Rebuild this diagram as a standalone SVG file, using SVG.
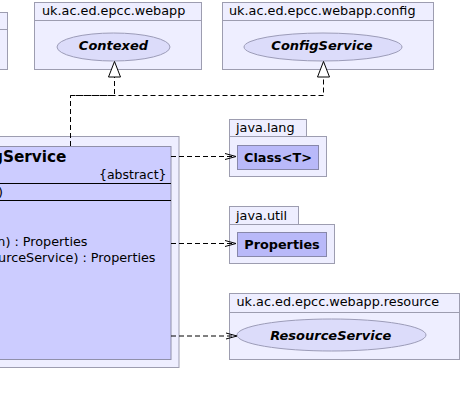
<svg xmlns="http://www.w3.org/2000/svg" width="462" height="405" viewBox="0 0 462 405">
<style>
text{font-family:"DejaVu Sans","Liberation Sans",sans-serif;fill:#000}
.pkg{fill:#eeeeff;stroke:#9d9db0;stroke-width:1}
.cls{fill:#ccccff;stroke:#9090aa;stroke-width:1}
.sm{fill:#b9b9f9;stroke:#8888aa;stroke-width:1}
.ell{fill:#dcdcfa;stroke:#9c9cb8;stroke-width:1}
.lbl{font-size:12.8px}
.ital{font-size:13px;font-weight:bold;font-style:italic}
.bold{font-size:12.8px;font-weight:bold}
.edge{fill:none;stroke:#000;stroke-width:1;stroke-dasharray:5,3}
.head{fill:none;stroke:#000;stroke-width:1}
.tri{fill:#fff;stroke:#000;stroke-width:1}
.div{stroke:#000;stroke-width:1}
</style>
<g id="pkg-left">
<rect class="pkg" x="-20" y="12.5" width="27.5" height="57"/>
<line x1="-20" y1="29.5" x2="7.5" y2="29.5" stroke="#9d9db0"/>
</g>
<g id="pkg-webapp">
<rect class="pkg" x="34.5" y="2.5" width="167" height="67"/>
<line x1="34.5" y1="20.5" x2="201.5" y2="20.5" stroke="#9d9db0"/>
<text class="lbl" x="42" y="15">uk.ac.ed.epcc.webapp</text>
<ellipse class="ell" cx="113.5" cy="47" rx="56.5" ry="14"/>
<text class="ital" x="113.5" y="49.5" text-anchor="middle">Contexed</text>
</g>
<g id="pkg-config">
<rect class="pkg" x="222.5" y="2.5" width="211" height="67"/>
<line x1="222.5" y1="20.5" x2="433.5" y2="20.5" stroke="#9d9db0"/>
<text class="lbl" x="229" y="15">uk.ac.ed.epcc.webapp.config</text>
<ellipse class="ell" cx="323" cy="47" rx="79" ry="14"/>
<text class="ital" x="322" y="49.5" text-anchor="middle">ConfigService</text>
</g>
<g id="main-class">
<rect class="pkg" x="-20" y="136.5" width="199" height="231"/>
<rect class="cls" x="-20" y="146.5" width="191" height="213"/>
<text x="66.5" y="162" text-anchor="end" style="font-size:15.3px;font-weight:bold">gService</text>
<text x="166.5" y="178.5" text-anchor="end" style="font-size:12.5px">{abstract}</text>
<line class="div" x1="-20" y1="183.5" x2="171" y2="183.5"/>
<text class="lbl" x="3" y="196" text-anchor="end">)</text>
<line class="div" x1="-20" y1="200.5" x2="171" y2="200.5"/>
<text class="lbl" x="87.5" y="246" text-anchor="end">n) : Properties</text>
<text class="lbl" x="155.5" y="262" text-anchor="end">urceService) : Properties</text>
</g>
<g id="pkg-java-lang">
<rect class="pkg" x="229.5" y="119.5" width="77" height="17"/>
<rect class="pkg" x="229.5" y="136.5" width="97" height="40"/>
<text class="lbl" x="236" y="132">java.lang</text>
<rect class="sm" x="237.5" y="145.5" width="81" height="24"/>
<text class="bold" x="278" y="161.5" text-anchor="middle">Class&lt;T&gt;</text>
</g>
<g id="pkg-java-util">
<rect class="pkg" x="229.5" y="206.5" width="69" height="18"/>
<rect class="pkg" x="229.5" y="224.5" width="105" height="39"/>
<text class="lbl" x="236" y="220">java.util</text>
<rect class="sm" x="237.5" y="232.5" width="89" height="24"/>
<text class="bold" x="282" y="248.5" text-anchor="middle">Properties</text>
</g>
<g id="pkg-resource">
<rect class="pkg" x="229.5" y="293.5" width="230" height="66"/>
<line x1="229.5" y1="312.5" x2="459.5" y2="312.5" stroke="#9d9db0"/>
<text class="lbl" x="236.5" y="306">uk.ac.ed.epcc.webapp.resource</text>
<ellipse class="ell" cx="331.5" cy="335" rx="94.5" ry="16"/>
<text class="ital" x="330.7" y="340" text-anchor="middle">ResourceService</text>
</g>
<g id="connectors">
<path class="edge" d="M70.5 146 V95.5 H114.5 V77"/>
<path class="edge" d="M70.5 95.5 H323.5 V77"/>
<polygon class="tri" points="114.5,61.5 108.5,77 120.5,77"/>
<polygon class="tri" points="323.5,61.5 317.5,77 329.5,77"/>
<path class="edge" d="M171 156.5 H235"/>
<polyline class="head" points="225,153.5 236,156.5 225,159.5"/>
<path class="edge" d="M171 243.5 H235"/>
<polyline class="head" points="225,240.5 236,243.5 225,246.5"/>
<path class="edge" d="M171 336 H236"/>
<polyline class="head" points="226,333 237,336 226,339"/>
</g>
</svg>
